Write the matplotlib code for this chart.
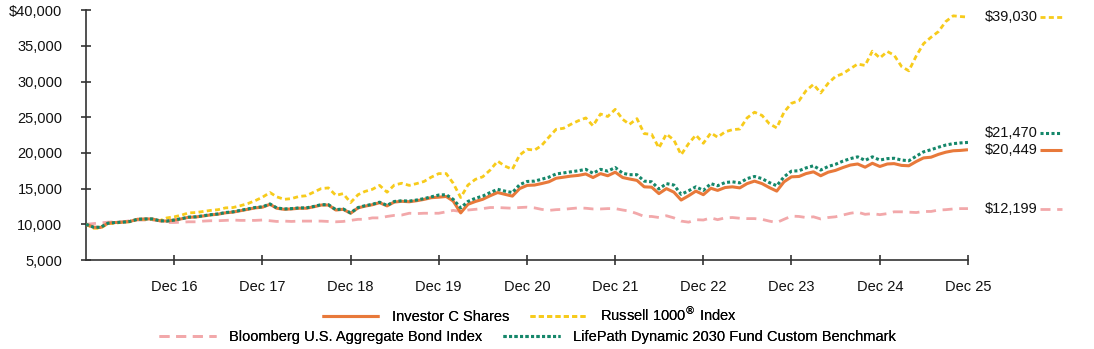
import pandas as pd
import matplotlib.pyplot as plt
from matplotlib.lines import Line2D
from matplotlib.transforms import blended_transform_factory

plt.rcParams["font.family"] = ["Liberation Sans", "DejaVu Sans"]

# Month-end values of a hypothetical $10,000 investment, Dec 2015 - Dec 2025
dates = pd.date_range("2015-12-31", periods=121, freq="ME")

investor_c = [
    10000,
    9600, 9550, 10150, 10250, 10300, 10400, 10700, 10750, 10750, 10500, 10450, 10600,
    10780, 10980, 11030, 11170, 11320, 11420, 11610, 11710, 11900, 12100, 12300, 12400,
    12800, 12250, 12100, 12150, 12250, 12250, 12450, 12700, 12700, 12000, 12100, 11550,
    12300, 12540, 12740, 13030, 12580, 13120, 13220, 13160, 13300, 13490, 13730, 13800,
    13900, 13250, 11600, 12800, 13200, 13500, 14000, 14450, 14200, 13950, 15000, 15450,
    15500, 15700, 15950, 16450, 16600, 16750, 16850, 17050, 16550, 17100, 16800, 17300,
    16550, 16350, 16150, 15250, 15200, 14300, 15000, 14500, 13400, 14000, 14650, 14150,
    15050, 14750, 15150, 15250, 15100, 15700, 16050, 15700, 15150, 14650, 15950, 16650,
    16700, 17100, 17350, 16800, 17300, 17550, 17950, 18300, 18450, 18000, 18550, 18100,
    18450, 18500, 18250, 18200, 18800, 19300, 19400, 19800, 20100, 20300, 20350, 20449,
]

russell_1000 = [
    10000,
    9450, 9450, 10100, 10150, 10300, 10350, 10700, 10700, 10700, 10500, 10900, 11050,
    11300, 11600, 11650, 11800, 11950, 12050, 12300, 12350, 12600, 12900, 13300, 13800,
    14450, 13850, 13500, 13600, 13900, 14000, 14500, 15000, 15100, 14050, 14300, 13050,
    14150, 14600, 14900, 15450, 14500, 15500, 15750, 15450, 15700, 16000, 16600, 17100,
    17100, 15750, 13750, 15500, 16300, 16650, 17600, 18850, 18150, 17700, 19700, 20500,
    20400, 21000, 22200, 23300, 23450, 24000, 24500, 24900, 23800, 25450, 25100, 26100,
    24700, 24000, 24800, 22700, 22600, 20700, 22650, 21800, 19750, 21300, 22500, 21350,
    22800, 22200, 22950, 23250, 23350, 24900, 25700, 25250, 24100, 23500, 25700, 26950,
    27300, 28700, 29600, 28400, 29750, 30700, 31100, 31800, 32450, 32250, 34250, 33300,
    34200, 33700, 32100, 31500, 33600, 35300, 36200, 37000, 38400, 39200, 39100, 39030,
]

bloomberg_agg = [
    10000,
    10100, 10200, 10300, 10350, 10350, 10500, 10600, 10600, 10600, 10500, 10250, 10250,
    10300, 10350, 10350, 10450, 10500, 10500, 10550, 10600, 10550, 10550, 10550, 10600,
    10500, 10400, 10450, 10400, 10450, 10450, 10450, 10450, 10400, 10350, 10400, 10550,
    10700, 10700, 10900, 10900, 11100, 11250, 11300, 11550, 11500, 11550, 11550, 11550,
    11750, 11950, 11800, 12000, 12100, 12200, 12350, 12350, 12300, 12250, 12350, 12400,
    12300, 12100, 11950, 12050, 12100, 12200, 12300, 12250, 12150, 12150, 12200, 12200,
    12000, 11850, 11500, 11100, 11100, 10950, 11200, 10900, 10450, 10300, 10650, 10600,
    10900, 10650, 10900, 10950, 10850, 10800, 10800, 10700, 10450, 10250, 10700, 11150,
    11100, 10950, 11050, 10750, 10950, 11050, 11300, 11550, 11700, 11400, 11500, 11350,
    11500, 11750, 11750, 11700, 11650, 11800, 11800, 12000, 12050, 12150, 12200, 12199,
]

lifepath_benchmark = [
    10000,
    9600, 9580, 10150, 10250, 10300, 10400, 10700, 10750, 10750, 10500, 10450, 10600,
    10800, 11000, 11050, 11200, 11350, 11450, 11650, 11750, 11950, 12150, 12350, 12450,
    12850, 12300, 12150, 12200, 12300, 12300, 12500, 12750, 12750, 12050, 12150, 11600,
    12350, 12600, 12800, 13100, 12650, 13200, 13300, 13250, 13400, 13600, 13850, 14100,
    14150, 13500, 12300, 13200, 13650, 13950, 14450, 14900, 14650, 14450, 15550, 16000,
    16050, 16300, 16600, 17050, 17200, 17350, 17500, 17700, 17150, 17700, 17450, 17950,
    17150, 16950, 16950, 16050, 15950, 14950, 15700, 15500, 14200, 14700, 15250, 14750,
    15700, 15400, 15850, 15950, 15800, 16400, 16700, 16400, 15850, 15400, 16650, 17450,
    17500, 17900, 18200, 17600, 18100, 18400, 18850, 19200, 19450, 18950, 19450, 19000,
    19200, 19250, 19000, 18900, 19550, 20150, 20450, 20800, 21100, 21300, 21400, 21470,
]

series_names = [
    "Investor C Shares",
    "Russell 1000$^{®}$ Index",
    "Bloomberg U.S. Aggregate Bond Index",
    "LifePath Dynamic 2030 Fund Custom Benchmark",
]

# line styles for each series
styles = {
    "Investor C Shares": dict(color="#E8793A", lw=2.2, ls="-", zorder=4),
    "Russell 1000$^{®}$ Index": dict(color="#F7CB1B", lw=2.0, dashes=(1.8, 1.2), zorder=3),
    "Bloomberg U.S. Aggregate Bond Index": dict(color="#F2A8AA", lw=2.0, dashes=(3.6, 2.4), zorder=2),
    "LifePath Dynamic 2030 Fund Custom Benchmark": dict(color="#15876A", lw=2.2, dashes=(1.0, 0.8), zorder=5),
}

values = [investor_c, russell_1000, bloomberg_agg, lifepath_benchmark]

fig = plt.figure(figsize=(10.94, 3.49), dpi=100)
ax = fig.add_axes([0.0786, 0.255, 0.8062, 0.716])

for name, vals in zip(series_names, values):
    ax.plot(dates, vals, solid_capstyle="butt", dash_capstyle="butt", **styles[name])

ax.set_xlim(dates[0], dates[-1])
ax.set_ylim(5000, 40000)

# x ticks on each December
dec_ticks = [d for d in dates if d.month == 12][1:]
ax.set_xticks(dec_ticks)
ax.set_xticklabels([d.strftime("Dec %y") for d in dec_ticks])

yticks = list(range(5000, 40001, 5000))
ax.set_yticks(yticks)
ax.set_yticklabels([("$" if v == 40000 else "") + f"{v:,}" for v in yticks])

for side in ["top", "right"]:
    ax.spines[side].set_visible(False)
for side in ["left", "bottom"]:
    ax.spines[side].set_color("#333333")
    ax.spines[side].set_linewidth(1.2)

ax.tick_params(axis="both", direction="inout", length=7, width=1.2, color="#333333",
               labelsize=10.5, labelcolor="#111111")
ax.tick_params(axis="y", pad=13.5)
ax.tick_params(axis="x", pad=11)

# ending values with a short line sample
trans = blended_transform_factory(ax.transAxes, ax.transData)
nudges = {"LifePath Dynamic 2030 Fund Custom Benchmark": 1300}
for name, vals in zip(series_names, values):
    y = vals[-1] + nudges.get(name, 0)
    ax.text(1.019, y, f"${vals[-1]:,}", transform=trans, ha="left", va="center",
            fontsize=10.5, color="#111111", clip_on=False)
    ax.add_line(Line2D([1.0816, 1.1066], [y, y], transform=trans, clip_on=False,
                       solid_capstyle="butt", dash_capstyle="butt", **styles[name]))

# two legend rows
def legend_row(names, anchor):
    handles = [Line2D([], [], solid_capstyle="butt", dash_capstyle="butt", **styles[n]) for n in names]
    leg = fig.legend(handles, names, loc="center", bbox_to_anchor=anchor, ncol=len(names),
                     frameon=False, fontsize=10.5, handlelength=3.9, handletextpad=0.9,
                     columnspacing=1.4, borderaxespad=0)
    fig.add_artist(leg)

legend_row(series_names[:2], (0.484, 0.100))
legend_row(series_names[2:], (0.482, 0.034))

fig.savefig("out.png", dpi=100)
